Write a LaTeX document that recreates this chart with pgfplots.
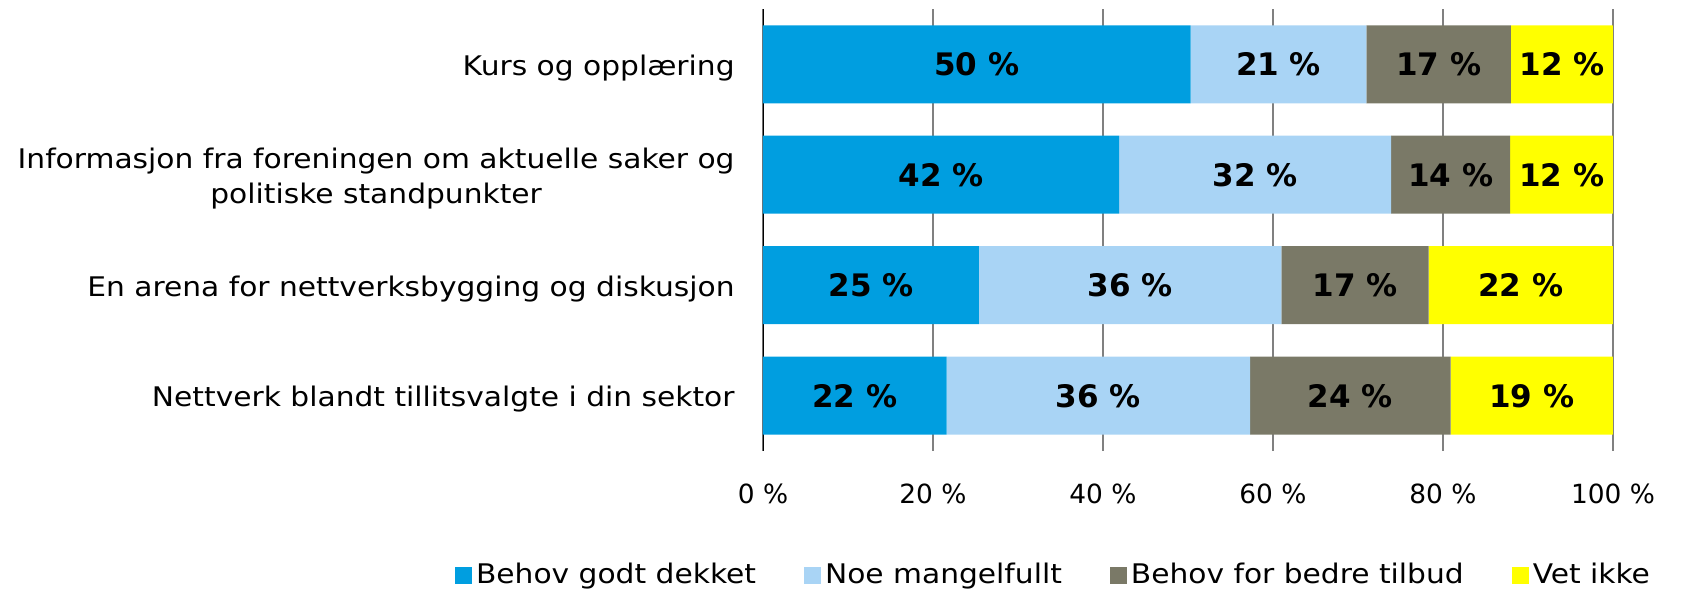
\documentclass[border=0pt]{standalone}
\usepackage{pgfplots}
\pgfplotsset{compat=1.18}
\usepackage{fontspec}
\setmainfont{DejaVu Sans}
\newfontfamily\lab{DejaVu Sans}[FakeStretch=1.1]
\definecolor{c1}{RGB}{0,158,224}
\definecolor{c2}{RGB}{169,212,245}
\definecolor{c3}{RGB}{122,121,103}
\definecolor{c4}{RGB}{255,255,0}
\begin{document}
\fontsize{13pt}{16pt}\selectfont
\begin{tikzpicture}
\path (-381.5pt,-69.5pt) rectangle (460pt,225.5pt);
\begin{axis}[
  at={(0,0)}, anchor=south west,
  scale only axis, width=425pt, height=221pt,
  xbar stacked, bar width=39pt,
  xmin=0, xmax=100, ymin=-0.5, ymax=3.5,
  /pgf/number format/assume math mode=true,
  ytick={0,1,2,3},
  yticklabels={Nettverk blandt tillitsvalgte i din sektor, En arena for nettverksbygging og diskusjon, {Informasjon fra foreningen om aktuelle saker og\\politiske standpunkter}, Kurs og opplæring},
  yticklabel style={align=center, font=\lab\fontsize{13.5pt}{17.6pt}\selectfont, inner sep=0pt, xshift=-14pt, yshift=-1.8pt},
  xtick={0,20,40,60,80,100},
  xticklabel={\pgfmathprintnumber{\tick}~\%},
  xticklabel style={font=\fontsize{13.2pt}{16pt}\selectfont, inner sep=0pt, yshift=-16.5pt},
  major tick length=0pt,
  xmajorgrids,
  major grid style={color=black!50, line width=0.6pt},
  axis line style={draw=none},
  point meta=rawx,
  nodes near coords={\pgfmathprintnumber[fixed,precision=0]{\pgfplotspointmeta}~\%},
  nodes near coords align={center},
  every axis plot/.append style={
    legend image code/.code={\fill[##1, draw=none] (0pt,-4.25pt) rectangle (8.5pt,4.25pt);}
  },
  every node near coord/.append style={anchor=center, font=\fontsize{15.5pt}{18pt}\selectfont\bfseries, text=black},
  legend style={at={(0.343,-0.281)}, anchor=center, draw=none, fill=none, legend columns=4,
    font=\lab\fontsize{13.5pt}{16pt}\selectfont,
    /tikz/every even column/.append style={column sep=22pt}},
  legend cell align=left,
]
\addplot[fill=c1, draw=none] coordinates {(21.6,0) (25.4,1) (41.9,2) (50.3,3)};
\addplot[fill=c2, draw=none] coordinates {(35.7,0) (35.6,1) (32.0,2) (20.7,3)};
\addplot[fill=c3, draw=none] coordinates {(23.6,0) (17.3,1) (14.0,2) (17.0,3)};
\addplot[fill=c4, draw=none] coordinates {(19.1,0) (21.7,1) (12.1,2) (12.0,3)};
\draw[line width=1.5pt, black] (axis cs:0,-0.5) -- (axis cs:0,3.5);
\legend{Behov godt dekket, Noe mangelfullt, Behov for bedre tilbud, Vet ikke}
\end{axis}
\end{tikzpicture}
\end{document}
